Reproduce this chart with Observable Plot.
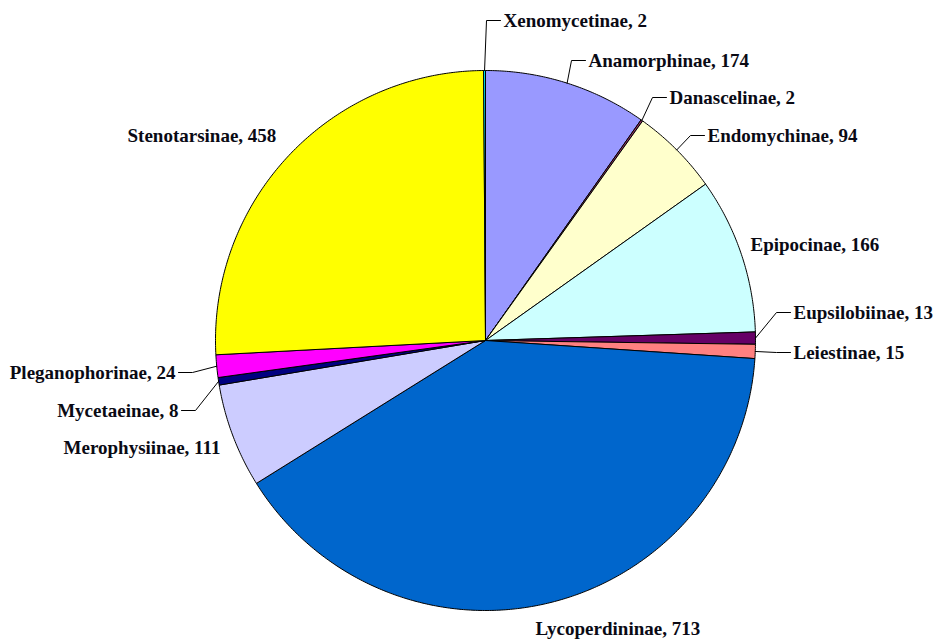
<!DOCTYPE html>
<html>
<head>
<meta charset="utf-8">
<script src="https://cdn.jsdelivr.net/npm/d3@7"></script>
<script src="https://cdn.jsdelivr.net/npm/@observablehq/plot@0.6"></script>
<style>
  html, body { margin: 0; padding: 0; background: #fff; }
  #chart svg { display: block; }
</style>
</head>
<body>
<div id="chart"></div>
<script>
// ---- data (clockwise from 12 o'clock) ----
const subfamilies = ["Anamorphinae", "Danascelinae", "Endomychinae", "Epipocinae", "Eupsilobiinae",
  "Leiestinae", "Lycoperdininae", "Merophysiinae", "Mycetaeinae", "Pleganophorinae", "Stenotarsinae", "Xenomycetinae"];
const species = [174, 2, 94, 166, 13, 15, 713, 111, 8, 24, 458, 2];
const colors = ["#9999FF", "#993366", "#FFFFCC", "#CCFFFF", "#660066", "#FF8080",
  "#0066CC", "#CCCCFF", "#000080", "#FF00FF", "#FFFF00", "#00FFFF"];

// ---- label layout (pixel positions of data labels) ----
const labelX = [588, 669, 707, 750, 793, 793, 535, 220, 178, 175, 127, 503];
const labelY = [60, 97, 135, 244, 312, 352, 628, 447, 410, 372, 135, 20];
const labelAnchor = ["start", "start", "start", "start", "start", "start", "start", "end", "end", "end", "start", "start"];
const hasLeader = [true, true, true, false, true, true, false, false, true, true, false, true];

// ---- geometry ----
const W = 935, H = 640, cx = 485, cy = 340, R = 270;
const arcs = d3.pie().sort(null).value(d => d)(species);

const slices = [];
arcs.forEach((a, i) => {
  const name = subfamilies[i];
  slices.push({name, color: colors[i], x: cx, y: cy});
  const n = Math.max(2, Math.ceil((a.endAngle - a.startAngle) / (Math.PI / 360)));
  for (let k = 0; k <= n; k++) {
    const t = a.startAngle + (a.endAngle - a.startAngle) * k / n;
    slices.push({name, color: colors[i], x: cx + R * Math.sin(t), y: cy - R * Math.cos(t)});
  }
  slices.push({name, color: colors[i], x: cx, y: cy});
});

const labels = subfamilies.map((s, i) => ({
  text: `${s}, ${species[i]}`, x: labelX[i], y: labelY[i], anchor: labelAnchor[i]
}));

const leaders = [];
arcs.forEach((a, i) => {
  if (!hasLeader[i]) return;
  const m = (a.startAngle + a.endAngle) / 2;
  const px = cx + R * Math.sin(m), py = cy - R * Math.cos(m);
  const start = labelAnchor[i] === "start";
  const ex = start ? labelX[i] - 3 : labelX[i] + 3;
  const elbowX = start ? Math.max(px, ex - 14) : Math.min(px, ex + 14);
  const name = subfamilies[i];
  leaders.push({name, x: px, y: py});
  leaders.push({name, x: elbowX, y: labelY[i]});
  leaders.push({name, x: ex, y: labelY[i]});
});

const font = "'Liberation Serif', 'Times New Roman', serif";

const chart = Plot.plot({
  width: W,
  height: H,
  margin: 0,
  x: {domain: [0, W], range: [0, W], axis: null},
  y: {domain: [0, H], range: [0, H], axis: null},
  color: {type: "identity"},
  style: {background: "#fff"},
  marks: [
    Plot.line(slices, {x: "x", y: "y", z: "name", fill: "color", stroke: "#000", strokeWidth: 1, strokeLinejoin: "round", curve: "linear"}),
    Plot.line(leaders, {x: "x", y: "y", z: "name", stroke: "#000", strokeWidth: 1}),
    Plot.text(labels.filter(d => d.anchor === "start"), {x: "x", y: "y", text: "text", textAnchor: "start",
      fontFamily: font, fontWeight: "bold", fontSize: 19, fill: "#0a0a14"}),
    Plot.text(labels.filter(d => d.anchor === "end"), {x: "x", y: "y", text: "text", textAnchor: "end",
      fontFamily: font, fontWeight: "bold", fontSize: 19, fill: "#0a0a14"})
  ]
});
document.getElementById("chart").appendChild(chart);
</script>
</body>
</html>
